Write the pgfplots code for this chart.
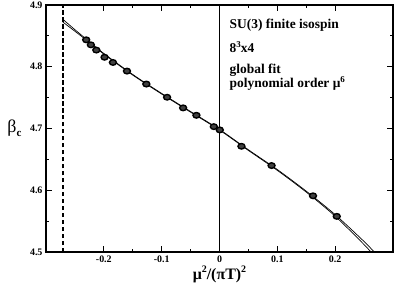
\documentclass[border=0pt]{standalone}
\usepackage{fontspec}
\setmainfont{Liberation Serif}
\usepackage{pgfplots}
\pgfplotsset{compat=1.18}
\begin{document}
\begin{tikzpicture}
\begin{axis}[
  scale only axis, width=347bp, height=247bp,
  xmin=-0.3, xmax=0.3, ymin=4.5, ymax=4.9,
  xtick={-0.2,-0.1,0,0.1,0.2},
  xticklabels={-0.2,-0.1,0,0.1,0.2},
  ytick={4.5,4.6,4.7,4.8,4.9},
  yticklabels={4.5,4.6,4.7,4.8,4.9},
  minor x tick num=1, minor y tick num=1,
  tick align=inside,
  major tick length=6pt, minor tick length=3.5pt,
  ticklabel style={font=\bfseries\fontsize{10}{11}\selectfont},
  every tick/.style={black, line width=1pt},
  axis line style={line width=1.8pt},
  xlabel={\bfseries\fontsize{16}{18}\selectfont μ\raisebox{0.9ex}{\fontsize{10}{11}\selectfont 2}/(πT)\raisebox{0.9ex}{\fontsize{10}{11}\selectfont 2}},
  ylabel={\fontsize{18}{19}\selectfont β\raisebox{-0.4ex}{\bfseries\fontsize{11}{12}\selectfont c}},
  ylabel style={rotate=-90, at={(rel axis cs:0,0.5)}, anchor=east, xshift=-21bp},
  xlabel style={yshift=3bp},
  clip=true,
]
\draw[line width=1.8pt, dash pattern=on 4.5pt off 2.5pt] (axis cs:-0.271,4.5) -- (axis cs:-0.271,4.9);
\draw[line width=2pt] (axis cs:0,4.5) -- (axis cs:0,4.9);
\addplot[black, line width=0.7pt, smooth, no marks] coordinates {
(-0.271,4.877) (-0.25,4.860) (-0.23,4.8445) (-0.2,4.8215) (-0.15,4.7875) (-0.1,4.7568) (-0.05,4.7275) (0,4.6985) (0.05,4.6655) (0.1,4.6335) (0.15,4.5985) (0.2,4.5605) (0.25,4.5170) (0.27,4.4975)
};
\addplot[black, line width=0.7pt, smooth, no marks] coordinates {
(-0.271,4.8725) (-0.25,4.8575) (-0.23,4.8430) (-0.2,4.8205) (-0.15,4.7865) (-0.1,4.7558) (-0.05,4.7265) (0,4.6975) (0.05,4.6645) (0.1,4.6322) (0.15,4.5970) (0.2,4.5580) (0.25,4.5120) (0.264,4.4975)
};
\addplot[only marks, mark=*, mark size=2.8pt, mark options={draw=black, fill=black!75, line width=1.4pt, xscale=1.25}] coordinates {
(-0.2305,4.8436) (-0.2224,4.8355) (-0.213,4.827) (-0.1988,4.8154) (-0.1843,4.807) (-0.160,4.793) (-0.1265,4.772) (-0.0906,4.7506) (-0.0629,4.7334) (-0.0399,4.7214) (-0.0098,4.703) (0.0005,4.6977) (0.038,4.6712) (0.090,4.640) (0.1617,4.591) (0.2028,4.5577)
};
\node[anchor=base west, inner sep=0pt, font=\bfseries\fontsize{13.5}{14}\selectfont] at (axis cs:0.0173,4.8615) {SU(3) finite isospin};
\node[anchor=base west, inner sep=0pt, font=\bfseries\fontsize{13.5}{14}\selectfont] at (axis cs:0.0173,4.8236) {8\raisebox{0.8ex}{\fontsize{9}{10}\selectfont 3}x4};
\node[anchor=base west, inner sep=0pt, font=\bfseries\fontsize{13.5}{14}\selectfont] at (axis cs:0.0173,4.789) {global fit};
\node[anchor=base west, inner sep=0pt, font=\bfseries\fontsize{13.5}{14}\selectfont] at (axis cs:0.0173,4.767) {polynomial order μ\raisebox{0.8ex}{\fontsize{9}{10}\selectfont 6}};
\end{axis}
\pgfresetboundingbox
\path (-46bp,-34bp) rectangle (349bp,252bp);
\end{tikzpicture}
\end{document}
